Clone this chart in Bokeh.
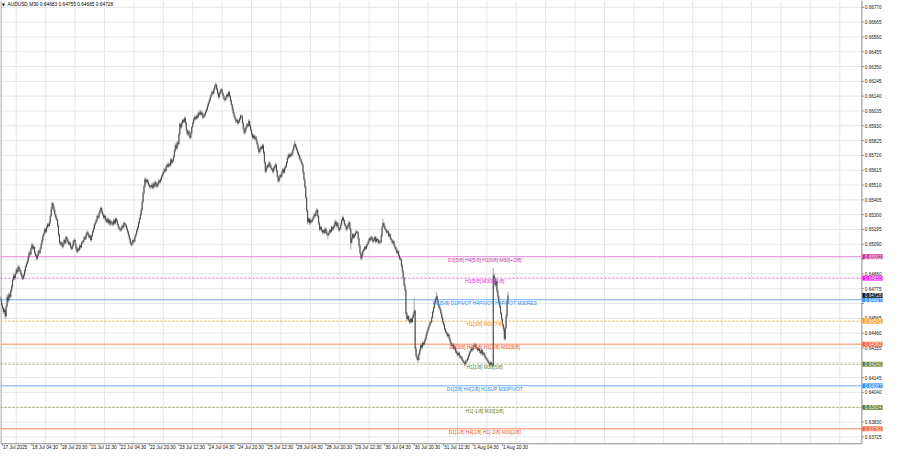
from bokeh.plotting import figure
from bokeh.models import Range1d
from bokeh.embed import file_html
from bokeh.resources import INLINE
from bokeh.core.properties import value

# ---------------- data (prices in points, 1 point = 0.00001) ----------------
symbol_title = "AUDUSD,M30  0.64683 0.64755 0.64665 0.64728"
first_open = 64710
close = [
64696,64660,64640,64610,64625,64580,64650,64717,64690,64735,
64717,64760,64790,64840,64867,64850,64880,64910,64895,64930,
64915,64901,64880,64860,64847,64870,64900,64930,64950,64970,
65000,65030,65020,65060,65086,65060,65070,65030,65010,64990,
65010,65040,65030,65059,65090,65120,65150,65170,65196,65180,
65210,65230,65220,65244,65290,65340,65380,65360,65330,65300,
65280,65264,65220,65160,65105,65090,65100,65073,65090,65120,
65100,65140,65127,65110,65090,65100,65070,65059,65080,65110,
65120,65090,65060,65038,65060,65050,65080,65070,65100,65105,
65120,65140,65130,65160,65175,65160,65140,65150,65120,65150,
65180,65200,65230,65244,65260,65290,65280,65310,65330,65346,
65320,65300,65280,65290,65264,65250,65270,65240,65260,65230,
65250,65244,65230,65260,65240,65270,65257,65230,65210,65200,
65189,65200,65220,65210,65240,65230,65223,65200,65180,65155,
65130,65100,65086,65100,65120,65110,65141,65160,65190,65209,
65240,65270,65300,65333,65390,65450,65500,65552,65530,65545,
65531,65510,65500,65497,65510,65490,65520,65500,65530,65517,
65500,65520,65540,65531,65550,65570,65586,65600,65620,65610,
65640,65654,65640,65660,65650,65690,65670,65680,65710,65750,
65791,65770,65810,65800,65870,65942,65920,65950,65970,65960,
65983,65950,65900,65873,65890,65860,65846,65880,65920,65950,
65976,65990,65980,66000,65990,66020,66010,66030,66010,66020,
65990,65997,66010,66030,66045,66070,66090,66110,66134,66150,
66170,66160,66188,66210,66220,66190,66160,66134,66160,66180,
66188,66160,66140,66120,66113,66130,66150,66140,66168,66140,
66110,66079,66050,66020,65997,65980,65960,65970,65949,65960,
65980,66000,65997,65950,65910,65880,65900,65920,65940,65930,
65962,65930,65900,65870,65846,65860,65840,65850,65826,65800,
65770,65743,65760,65780,65770,65791,65740,65670,65606,65630,
65650,65640,65668,65650,65630,65620,65606,65630,65640,65654,
65610,65570,65538,65560,65580,65570,65600,65620,65600,65630,
65641,65670,65700,65723,65710,65730,65720,65736,65760,65790,
65800,65780,65760,65740,65723,65700,65690,65670,65654,65600,
65550,65497,65420,65330,65250,65270,65240,65260,65250,65264,
65280,65300,65290,65320,65333,65290,65240,65196,65210,65190,
65175,65190,65170,65200,65180,65160,65155,65170,65190,65180,
65210,65196,65210,65230,65250,65220,65240,65210,65190,65200,
65230,65260,65278,65260,65230,65220,65196,65210,65230,65244,
65200,65100,65130,65160,65140,65155,65170,65180,65175,65130,
65080,65030,64990,65010,65040,65052,65070,65060,65080,65093,
65110,65130,65120,65141,65130,65110,65120,65140,65110,65127,
65120,65100,65110,65105,65150,65210,65240,65220,65200,65190,
65175,65180,65150,65160,65130,65120,65100,65110,65080,65070,
65052,65030,65040,65010,64990,64983,64940,64900,64853,64800,
64765,64600,64560,64580,64550,64539,64560,64540,64570,64593,
64620,64350,64300,64280,64270,64310,64340,64374,64360,64390,
64380,64402,64420,64450,64470,64491,64510,64530,64539,64570,
64610,64640,64676,64700,64720,64690,64660,64640,64628,64600,
64570,64539,64520,64490,64470,64460,64440,64450,64422,64400,
64380,64368,64380,64350,64360,64330,64320,64306,64320,64300,
64285,64290,64270,64260,64251,64240,64260,64265,64280,64300,
64320,64333,64350,64340,64360,64374,64380,64360,64354,64340,
64350,64333,64320,64340,64310,64320,64306,64290,64280,64272,
64260,64250,64237,64250,64240,64230,64870,64850,64800,64830,
64760,64720,64680,64648,64600,64560,64520,64491,64420,64500,
64580,64683,64728]
high = [
64725,64706,64672,64648,64640,64635,64664,64737,64729,64750,
64743,64772,64805,64850,64885,64877,64894,64922,64918,64946,
64940,64927,64909,64890,64872,64880,64914,64940,64962,64985,
65012,65044,65038,65072,65102,65096,65084,65078,65040,65022,
65020,65052,65048,65071,65100,65134,65160,65182,65210,65204,
65222,65240,65238,65258,65302,65354,65394,65388,65370,65342,
65308,65290,65270,65230,65168,65117,65114,65108,65102,65130,
65128,65152,65148,65137,65118,65112,65108,65080,65092,65120,
65134,65126,65098,65070,65072,65068,65090,65088,65112,65115,
65130,65152,65148,65172,65189,65183,65170,65162,65158,65162,
65190,65212,65240,65258,65270,65302,65298,65322,65340,65360,
65354,65330,65308,65302,65298,65274,65282,65278,65272,65268,
65260,65258,65250,65272,65268,65282,65278,65267,65238,65220,
65208,65210,65232,65228,65252,65248,65240,65231,65210,65188,
65163,65140,65108,65112,65130,65128,65153,65170,65202,65223,
65252,65280,65312,65347,65406,65464,65512,65566,65560,65557,
65553,65541,65518,65510,65522,65518,65532,65528,65542,65538,
65525,65530,65552,65548,65562,65580,65600,65610,65632,65628,
65652,65668,65662,65672,65668,65704,65698,65692,65720,65764,
65805,65799,65822,65818,65882,65956,65950,65962,65984,65978,
65997,65991,65960,65908,65902,65898,65870,65892,65930,65962,
65988,66004,65998,66012,66008,66032,66028,66044,66038,66032,
66028,66007,66022,66040,66057,66080,66102,66120,66148,66162,
66182,66178,66200,66224,66236,66228,66200,66168,66172,66190,
66200,66196,66170,66148,66130,66142,66160,66158,66180,66176,
66148,66120,66087,66060,66028,66007,65988,65982,65978,65972,
65992,66012,66008,66005,65960,65918,65912,65930,65952,65948,
65976,65970,65940,65908,65880,65872,65868,65862,65858,65836,
65808,65780,65772,65792,65788,65805,65799,65750,65678,65642,
65662,65658,65680,65676,65660,65638,65630,65642,65650,65666,
65662,65620,65578,65572,65590,65588,65612,65632,65628,65642,
65653,65680,65712,65737,65731,65742,65738,65748,65770,65802,
65826,65808,65790,65768,65750,65731,65712,65698,65680,65662,
65608,65560,65505,65430,65338,65284,65278,65272,65268,65276,
65292,65314,65308,65332,65349,65341,65298,65248,65222,65218,
65198,65200,65198,65212,65208,65190,65168,65182,65200,65198,
65222,65218,65220,65242,65264,65258,65252,65248,65220,65212,
65240,65272,65294,65286,65268,65240,65228,65222,65240,65256,
65252,65208,65142,65170,65168,65167,65180,65192,65188,65183,
65138,65090,65038,65022,65050,65064,65080,65078,65092,65105,
65122,65140,65138,65153,65149,65140,65132,65150,65148,65139,
65137,65128,65122,65118,65162,65224,65270,65248,65230,65208,
65198,65190,65188,65172,65168,65140,65128,65122,65118,65090,
65078,65062,65052,65048,65020,65002,64991,64950,64908,64863,
64810,64773,64610,64594,64588,64560,64572,64568,64582,64607,
64710,64630,64360,64312,64290,64322,64350,64388,64382,64402,
64398,64414,64430,64462,64480,64503,64520,64542,64549,64582,
64622,64650,64690,64712,64751,64728,64700,64668,64650,64636,
64608,64580,64547,64530,64498,64480,64468,64462,64458,64432,
64408,64390,64392,64388,64372,64368,64340,64328,64332,64328,
64308,64302,64298,64280,64268,64261,64272,64275,64292,64310,
64332,64343,64362,64358,64372,64386,64392,64388,64370,64362,
64360,64358,64343,64352,64348,64332,64328,64316,64298,64290,
64280,64268,64258,64262,64258,64248,64922,64884,64858,64846,
64838,64770,64728,64690,64656,64610,64568,64530,64499,64514,
64592,64693,64755]
low = [
64684,64650,64625,64598,64602,64560,64570,64642,64675,64680,
64703,64709,64750,64778,64832,64835,64840,64872,64881,64885,
64903,64891,64868,64846,64835,64839,64860,64888,64922,64940,
64960,64988,65006,65012,65050,65046,65052,65018,65000,64975,
64980,65002,65018,65022,65049,65082,65108,65140,65162,65168,
65170,65202,65208,65212,65234,65282,65330,65348,65320,65286,
65268,65254,65210,65148,65091,65078,65082,65059,65065,65080,
65088,65092,65117,65098,65080,65082,65060,65047,65051,65070,
65102,65078,65050,65024,65030,65038,65042,65060,65062,65088,
65097,65110,65118,65122,65150,65148,65130,65132,65108,65112,
65142,65170,65192,65218,65236,65250,65268,65272,65300,65322,
65308,65290,65268,65272,65252,65240,65242,65228,65232,65218,
65222,65234,65218,65222,65230,65232,65245,65220,65198,65190,
65177,65181,65190,65198,65202,65220,65211,65190,65168,65143,
65118,65090,65072,65078,65090,65098,65102,65131,65152,65180,
65201,65230,65262,65290,65325,65380,65442,65490,65516,65522,
65519,65500,65488,65483,65489,65478,65482,65488,65492,65505,
65488,65492,65510,65519,65523,65540,65562,65576,65592,65598,
65602,65630,65628,65632,65638,65642,65658,65662,65670,65702,
65742,65758,65762,65788,65792,65860,65908,65912,65940,65948,
65952,65938,65890,65859,65865,65848,65832,65838,65870,65912,
65942,65966,65968,65972,65978,65982,65998,66002,65998,66002,
65978,65982,65987,66002,66020,66037,66060,66082,66100,66126,
66142,66148,66152,66178,66202,66178,66150,66120,66126,66150,
66172,66148,66130,66108,66101,66105,66120,66128,66132,66128,
66098,66069,66038,66010,65985,65970,65948,65952,65935,65941,
65952,65970,65985,65940,65898,65866,65872,65890,65912,65918,
65922,65918,65890,65858,65832,65838,65828,65832,65814,65790,
65758,65729,65735,65750,65758,65762,65728,65660,65592,65598,
65622,65628,65632,65638,65620,65608,65592,65598,65620,65632,
65598,65560,65524,65530,65550,65558,65562,65590,65588,65592,
65620,65633,65660,65692,65698,65702,65708,65712,65726,65752,
65780,65768,65750,65728,65713,65688,65680,65658,65644,65586,
65538,65487,65408,65316,65230,65242,65226,65232,65238,65242,
65256,65270,65278,65282,65310,65278,65228,65182,65188,65178,
65161,65167,65158,65162,65170,65148,65125,65147,65160,65168,
65172,65184,65188,65200,65222,65208,65212,65198,65178,65182,
65192,65220,65252,65248,65220,65208,65182,65188,65200,65222,
65188,65052,65090,65122,65128,65132,65145,65162,65163,65118,
65068,65020,64976,64982,65000,65032,65042,65048,65052,65070,
65085,65100,65108,65112,65118,65098,65102,65110,65098,65102,
65108,65088,65092,65093,65097,65140,65202,65208,65190,65178,
65163,65167,65138,65142,65118,65110,65088,65092,65068,65058,
65040,65020,65022,64998,64978,64973,64928,64888,64839,64788,
64751,64584,64546,64552,64538,64525,64531,64528,64532,64560,
64581,64336,64286,64268,64250,64262,64300,64332,64348,64352,
64368,64372,64392,64412,64440,64462,64481,64502,64518,64531,
64562,64600,64632,64666,64692,64678,64648,64630,64616,64588,
64558,64529,64508,64480,64458,64450,64428,64432,64410,64390,
64368,64356,64360,64338,64342,64318,64310,64292,64298,64288,
64273,64277,64258,64250,64239,64226,64232,64250,64257,64270,
64292,64310,64325,64328,64332,64350,64366,64348,64342,64328,
64332,64321,64308,64312,64298,64302,64294,64278,64270,64260,
64248,64238,64223,64229,64228,64217,64220,64836,64786,64792,
64748,64708,64670,64636,64588,64548,64510,64477,64408,64410,
64490,64572,64665]

time_labels = ["17 Jul 2025", "18 Jul 04:30", "18 Jul 20:30", "21 Jul 12:30",
               "22 Jul 04:30", "22 Jul 20:30", "23 Jul 12:30", "24 Jul 04:30",
               "24 Jul 20:30", "25 Jul 12:30", "28 Jul 04:30", "28 Jul 20:30",
               "29 Jul 12:30", "30 Jul 04:30", "30 Jul 20:30", "31 Jul 12:30",
               "1 Aug 04:30", "1 Aug 20:30"]
price_ticks = [0.66770, 0.66665, 0.66560, 0.66455, 0.66350, 0.66245, 0.66140,
               0.66035, 0.65930, 0.65825, 0.65720, 0.65615, 0.65510, 0.65405,
               0.65300, 0.65195, 0.65090, 0.64985, 0.64880, 0.64775, 0.64670,
               0.64565, 0.64460, 0.64355, 0.64250, 0.64145, 0.64040, 0.63935,
               0.63830, 0.63725]
hidden_ticks = [0.64985, 0.64670, 0.64250, 0.63935]

level_prices = [0.65002, 0.64850, 0.64697, 0.64545, 0.64382, 0.64240, 0.64087, 0.63934, 0.63782]
level_names = ["D1[5/8] H4[5/8] H1[6/8] M30[+2/8]",
               "H1[5/8] M30[+1/8]",
               "W1[5/8] D1PIVOT H4PIVOT H1PIVOT M30RES",
               "H1[3/8] M30[7/8]",
               "D1[3/8] H4[3/8] H1[2/8] M30[6/8]",
               "H1[1/8] M30[5/8]",
               "D1[2/8] H4[2/8] H1SUP M30PIVOT",
               "H1[-1/8] M30[3/8]",
               "D1[1/8] H4[1/8] H1[-2/8] M30[2/8]"]
last_price = 0.64728

# ---------------- styles / geometry ----------------
PT = 1e-5
line_cols = ["#E68AD9", "#F050F0", "#6FB1F5", "#FFA51F", "#F5865A", "#A2AE62", "#6FB1F5", "#A2AE62", "#F5865A"]
text_cols = ["#C23AAE", "#E020E0", "#2E86E6", "#F08A00", "#EE5222", "#5F7F27", "#2E86E6", "#5F7F27", "#EE5222"]
box_cols  = ["#C8288F", "#FF00FF", "#2D8CFF", "#FF9A1F", "#FF5A2A", "#5E7A2A", "#2D8CFF", "#5E7A2A", "#FF5A2A"]
dashed    = [False, True, False, True, False, True, False, True, False]
FONT = "Liberation Sans"
AX = "#8c8c8c"
GRID = "#E6E6E6"

BX = 1.0687                 # bars per reference pixel
X0 = -0.14                  # left edge of the chart
XB = 877 * BX + X0          # right edge of the candle area / price scale line
XR = 900 * BX + X0          # right edge of the window
Y1 = 0.66818                # top of chart
Y0 = 0.63676                # bottom of the candle area (time axis line)
PY = (Y1 - Y0) / 459.0      # price per reference pixel
YB = Y0 - 8 * PY            # bottom of the time-label strip

n = len(close)
assert len(high) == n and len(low) == n, (len(close), len(high), len(low))
bars = list(range(n))
opens = [first_open] + close[:-1]
c = [v * PT for v in close]
o = [v * PT for v in opens]
h = [v * PT for v in high]
l = [v * PT for v in low]

p = figure(frame_width=884, frame_height=451, output_backend="svg", toolbar_location=None,
           tools="", x_range=Range1d(X0, XR), y_range=Range1d(YB, Y1),
           x_axis_location=None, y_axis_location=None, min_border=0)
p.background_fill_color = "white"
p.border_fill_color = "white"
p.outline_line_color = None
p.grid.visible = False

# grid (only over the candle area)
tick_bars = [2 + 32 * k for k in range(len(time_labels))]
grid_bars = [b + 15 for b in tick_bars] + [tick_bars[-1] + 15 + 32 * k for k in range(1, 13)]
grid_bars = [g for g in grid_bars if g < XB]
p.segment(x0=grid_bars, y0=[Y0] * len(grid_bars), x1=grid_bars, y1=[Y1] * len(grid_bars),
          line_color=GRID, line_width=1)
p.segment(x0=[X0] * len(price_ticks), y0=price_ticks, x1=[XB] * len(price_ticks), y1=price_ticks,
          line_color=GRID, line_width=1)

# time scale (axis line, ticks, left-aligned labels)
p.segment(x0=[X0], y0=[Y0], x1=[XB], y1=[Y0], line_color=AX, line_width=1)
p.segment(x0=tick_bars, y0=[Y0] * len(tick_bars), x1=tick_bars, y1=[Y0 - 2 * PY] * len(tick_bars),
          line_color=AX, line_width=1)
p.text(x=[b + 0.5 for b in tick_bars], y=[Y0 - 4.3 * PY] * len(tick_bars), text=time_labels,
       text_font=value(FONT), text_font_size="4.7px", text_color="#111111",
       text_align="left", text_baseline="middle")

# price scale on the right (line, ticks, labels)
p.segment(x0=[XB], y0=[Y0], x1=[XB], y1=[Y1], line_color=AX, line_width=1)
p.segment(x0=[X0 + 0.5 * BX], y0=[Y0], x1=[X0 + 0.5 * BX], y1=[Y1], line_color=AX, line_width=1)
p.segment(x0=[XB] * len(price_ticks), y0=price_ticks, x1=[XB + 2 * BX] * len(price_ticks),
          y1=price_ticks, line_color=AX, line_width=1)
shown = [t for t in price_ticks if t not in hidden_ticks]
p.text(x=[XB + 3 * BX] * len(shown), y=shown, text=[f"{t:.5f}" for t in shown],
       text_font=value(FONT), text_font_size="4.6px", text_color="#111111",
       text_align="left", text_baseline="middle")

# level lines (only over the candle area)
for flag, dash in ((False, "solid"), (True, "2 2")):
    ys = [y for y, d in zip(level_prices, dashed) if d == flag]
    cs = [col for col, d in zip(line_cols, dashed) if d == flag]
    p.segment(x0=[X0] * len(ys), y0=ys, x1=[XB] * len(ys), y1=ys,
              line_color=cs, line_width=1, line_dash=dash)

# candles: wicks then bodies
p.segment(x0=bars, y0=l, x1=bars, y1=h, line_color="#a3a3a3", line_width=1)
p.segment(x0=bars, y0=o, x1=bars, y1=c, line_color="#3a3a3a", line_width=0.9)

# level texts just below each line
p.text(x=[493 * BX + X0] * len(level_prices), y=[v - 1.2 * PY for v in level_prices],
       text=level_names, text_color=text_cols, text_font=value(FONT),
       text_font_size="4.9px", text_align="center", text_baseline="top")

# price boxes on the price scale
box_vals = level_prices + [last_price]
box_fill = box_cols + ["#111111"]
p.quad(left=[XB + 0.5 * BX] * len(box_vals), right=[XB + 21 * BX] * len(box_vals),
       bottom=[v - 2.5 * PY for v in box_vals], top=[v + 2.5 * PY for v in box_vals],
       fill_color=box_fill, line_color=None)
p.text(x=[XB + 3 * BX] * len(box_vals), y=box_vals, text=[f"{v:.5f}" for v in box_vals],
       text_font=value(FONT), text_font_size="4.6px", text_color="white",
       text_align="left", text_baseline="middle")

# title
p.text(x=[7.2 * BX + X0], y=[Y1 - 4 * PY], text=[symbol_title], text_font=value(FONT),
       text_font_size="4.8px", text_color="#000000", text_baseline="middle")
p.text(x=[1.6 * BX + X0], y=[Y1 - 4 * PY], text=["\u25BC"], text_font=value("DejaVu Sans"),
       text_font_size="3.8px", text_color="#000000", text_baseline="middle")

open("out.html", "w").write(file_html(p, INLINE))
